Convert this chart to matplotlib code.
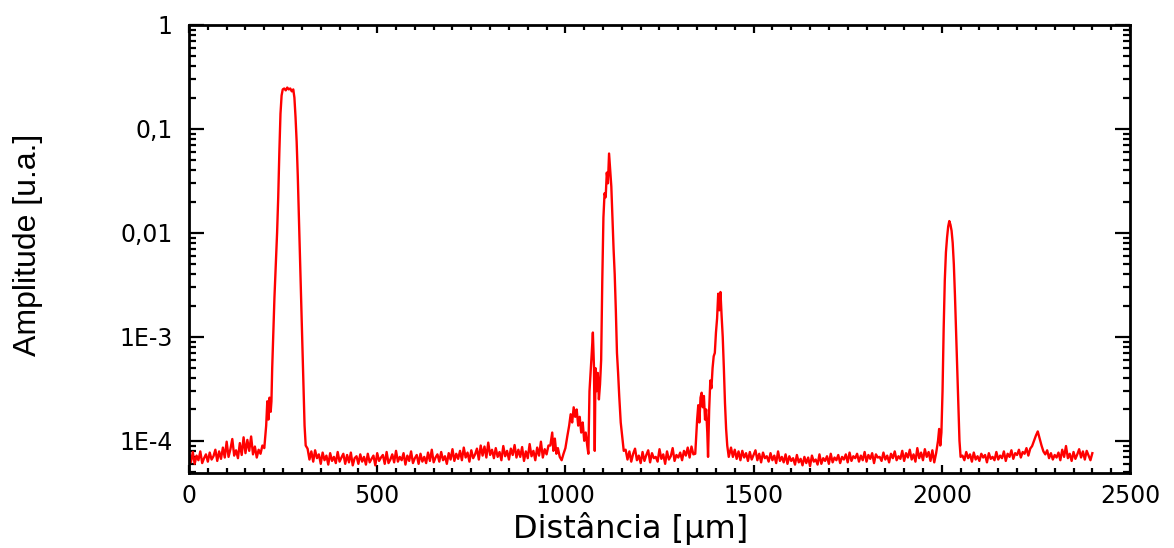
import numpy as np
import matplotlib
matplotlib.use("Agg")
import matplotlib.pyplot as plt
from matplotlib.ticker import FixedLocator, FixedFormatter, LogLocator, MultipleLocator

# baseline noise, in units of 1e-5, sampled every 5 um
base_a_start, base_a = 0, [
    7.5, 6.2, 7.8, 6.0, 7.2, 6.5, 7.9, 6.1, 6.8, 7.4,
    6.3, 7.7, 6.6, 7.1, 8.2, 6.4, 7.9, 6.7, 8.6, 6.9,
    9.8, 7.0, 8.3, 10.4, 7.2, 8.1, 6.8, 9.5, 7.3, 10.8,
    7.6, 10.2, 8.0, 11.0, 7.4, 8.8, 6.9, 8.2, 7.5, 9.0]
base_b_start, base_b = 315, [
    8.4, 6.6, 7.9, 6.3, 8.1, 6.8, 7.4, 6.0, 7.7, 6.5,
    7.2, 5.9, 7.6, 6.4, 7.0, 6.1, 7.8, 6.3, 6.9, 7.5,
    6.0, 7.3, 6.2, 7.7, 5.8, 6.8, 7.1, 6.0, 7.4, 6.3,
    7.0, 5.9, 7.5, 6.2, 6.7, 7.2, 5.8, 7.6, 6.4, 6.9,
    7.3, 6.0, 7.8, 6.1, 6.6, 7.4, 6.2, 8.0, 6.3, 7.0,
    6.5, 7.6, 5.9, 7.2, 6.4, 7.9, 6.1, 6.8, 7.3, 6.0,
    7.5, 6.3, 7.0, 6.1, 7.7, 6.4, 8.2, 6.2, 6.9, 7.4,
    6.3, 7.8, 6.5, 7.1, 6.0, 7.6, 6.6, 8.3, 6.4, 7.5,
    6.7, 8.0, 6.5, 8.6, 6.9, 7.7, 6.3, 8.1, 6.8, 7.4,
    8.4, 6.6, 9.0, 7.2, 8.8, 6.9, 9.6, 7.3, 8.2, 6.8,
    8.5, 7.0, 7.8, 6.5, 8.9, 7.1, 8.0, 6.6, 8.4, 7.3,
    9.1, 6.9, 8.2, 7.0, 8.7, 6.4, 7.9, 6.8, 9.3, 7.1,
    8.0, 6.5, 8.6, 7.2, 9.8, 6.9, 8.3, 7.4, 9.0]
base_c_start, base_c = 1160, [
    8.2, 6.6, 7.9, 6.3, 7.5, 8.4, 6.5, 7.2, 6.1, 7.8,
    6.4, 7.3, 8.1, 6.2, 7.6, 6.8, 7.0, 6.3, 8.3, 6.7,
    7.4, 6.0, 7.9, 6.6, 7.1, 8.5, 6.4, 7.3, 6.9, 7.7,
    6.5, 8.0, 7.2, 8.6, 6.9, 8.8, 7.4]
base_d_start, base_d = 1440, [
    8.6, 7.0, 8.2, 6.7, 7.9, 6.5, 8.0, 6.9, 7.6, 6.4,
    7.8, 6.6, 7.3, 8.1, 6.5, 7.5, 6.2, 7.7, 6.8, 7.1,
    6.3, 7.6, 6.5, 7.2, 6.1, 7.9, 6.4, 7.0, 6.2, 7.4,
    6.0, 7.1, 6.4, 6.8, 5.9, 7.3, 6.2, 6.7, 5.8, 7.0,
    6.1, 6.9, 5.7, 7.2, 6.3, 6.6, 5.9, 7.4, 6.0, 6.8,
    6.4, 7.1, 6.0, 7.5, 6.2, 6.9, 6.5, 7.3, 6.1, 7.0,
    6.6, 7.4, 6.2, 7.7, 6.4, 7.1, 6.8, 7.5, 6.3, 7.2,
    6.5, 7.8, 6.3, 7.3, 6.7, 7.6, 6.1, 7.4, 6.9, 7.0,
    6.4, 7.7, 6.6, 7.2, 6.2, 7.5, 6.8, 7.9, 6.5, 7.1,
    6.7, 8.0, 6.4, 7.6, 6.9, 8.2, 6.6, 7.4, 6.3, 8.5,
    6.8, 7.7, 6.5, 8.3, 7.0, 7.8, 6.4, 8.1, 6.2, 7.6]
base_e_start, base_e = 2055, [
    7.2, 6.5, 7.8, 6.8, 7.4, 6.3, 7.7, 6.6, 7.1, 6.4,
    7.5, 6.9, 7.3, 6.2, 7.6, 6.7, 7.0, 6.5, 7.8, 6.6,
    7.2, 6.8, 7.9, 6.4, 7.5, 7.0, 8.1, 6.7, 7.6, 7.3,
    8.2, 6.9, 7.8, 7.5, 8.5, 7.2, 8.4, 8.9, 10.0, 11.2,
    12.3, 10.5, 9.0, 7.9, 7.4, 8.1, 6.8, 7.6, 6.6, 7.3,
    6.9, 7.7, 6.5, 8.2, 7.0, 8.9, 6.8, 7.5, 6.4, 7.8,
    6.7, 7.4, 8.3, 6.9, 7.9, 6.6, 8.0, 7.2, 6.5, 7.6]

# peaks (um, amplitude)
peak1_x = [200, 205, 208, 211, 214, 217, 219, 221, 224, 227, 230, 234, 237, 240, 243, 246, 249, 253,
           257, 261, 265, 269, 273, 277, 280, 283, 286, 289, 292, 295, 298, 301, 304, 307, 310]
peak1_y = [8.5e-5, 1.4e-4, 2.4e-4, 1.6e-4, 2.6e-4, 1.9e-4, 2.4e-4, 5e-4, 1.1e-3, 2.4e-3, 4.5e-3, 1e-2,
           2.2e-2, 6e-2, 0.14, 0.21, 0.24, 0.245, 0.235, 0.25, 0.24, 0.245, 0.23, 0.24, 0.2, 0.13, 0.075,
           0.035, 0.014, 6e-3, 2.2e-3, 9e-4, 3.5e-4, 1.4e-4, 9e-5]
peak2_x = [960, 965, 968, 972, 976, 980, 985, 990, 995, 1000, 1005, 1010, 1014, 1018, 1022, 1026, 1030,
           1034, 1038, 1042, 1046, 1050, 1054, 1058, 1061, 1064, 1067, 1070, 1073, 1076, 1078, 1080, 1083,
           1086, 1089, 1092, 1095, 1098, 1101, 1104, 1107, 1110, 1113, 1116, 1119, 1122, 1125, 1128, 1131,
           1134, 1137, 1140, 1143, 1147, 1151, 1155]
peak2_y = [9e-5, 1.2e-4, 8e-5, 1.05e-4, 7.5e-5, 8.5e-5, 7e-5, 6.5e-5, 7.5e-5, 8.5e-5, 1.1e-4, 1.4e-4,
           1.8e-4, 1.5e-4, 2.1e-4, 1.7e-4, 2e-4, 1.4e-4, 1.7e-4, 1.2e-4, 1.5e-4, 1.0e-4, 1.2e-4, 9e-5,
           7.5e-5, 3e-4, 4.5e-4, 7e-4, 1.1e-3, 5e-4, 8e-5, 5e-4, 3e-4, 4.5e-4, 2.5e-4, 3.5e-4, 6e-4,
           3.5e-3, 0.014, 0.024, 0.022, 0.038, 0.03, 0.058, 0.04, 0.028, 0.014, 7e-3, 4e-3, 1.8e-3,
           7e-4, 4.5e-4, 2.7e-4, 1.5e-4, 1.1e-4, 8e-5]
peak3_x = [1345, 1350, 1353, 1356, 1359, 1362, 1365, 1368, 1371, 1374, 1377, 1379, 1382, 1385, 1388,
           1391, 1394, 1397, 1400, 1403, 1406, 1409, 1412, 1415, 1418, 1421, 1424, 1427, 1430, 1434]
peak3_y = [7.5e-5, 1.6e-4, 2.2e-4, 1.5e-4, 2.6e-4, 2.9e-4, 2.1e-4, 2.7e-4, 1.6e-4, 2e-4, 1.2e-4, 7e-5,
           2e-4, 3.8e-4, 3.2e-4, 5e-4, 6.5e-4, 7e-4, 1.1e-3, 1.5e-3, 2.6e-3, 1.8e-3, 2.7e-3, 1.6e-3,
           1e-3, 5e-4, 2.3e-4, 1.3e-4, 9e-5, 7e-5]
peak4_x = [1990, 1993, 1996, 1999, 2002, 2005, 2008, 2011, 2014, 2017, 2020, 2023, 2026, 2029, 2032,
           2035, 2038, 2041, 2044, 2047, 2050]
peak4_y = [1.0e-4, 1.3e-4, 9e-5, 1.2e-4, 3e-4, 1.2e-3, 3.5e-3, 6.5e-3, 9e-3, 0.0115, 0.013, 0.012,
           0.0105, 8e-3, 5e-3, 2.5e-3, 1.1e-3, 4.5e-4, 2e-4, 1e-4, 7e-5]

y_ticks = [1e-4, 1e-3, 1e-2, 1e-1, 1]
y_labels = ["1E-4", "1E-3", "0,01", "0,1", "1"]
x_ticks = [0, 500, 1000, 1500, 2000, 2500]


def base(start, vals):
    return list(start + 5 * np.arange(len(vals))), [v * 1e-5 for v in vals]


parts = [base(base_a_start, base_a), (peak1_x, peak1_y),
         base(base_b_start, base_b), (peak2_x, peak2_y),
         base(base_c_start, base_c), (peak3_x, peak3_y),
         base(base_d_start, base_d), (peak4_x, peak4_y),
         base(base_e_start, base_e)]
x = np.concatenate([np.asarray(p[0], float) for p in parts])
y = np.concatenate([np.asarray(p[1], float) for p in parts])

fig = plt.figure(figsize=(11.74, 5.48), dpi=100)
ax = fig.add_axes([0.161, 0.1369, 0.8015, 0.8175])
ax.plot(x, y, color="#ff0000", lw=1.7)

ax.set_yscale("log")
ax.set_xlim(0, 2500)
ax.set_ylim(4.9e-5, 1)

ax.yaxis.set_major_locator(FixedLocator(y_ticks))
ax.yaxis.set_major_formatter(FixedFormatter(y_labels))
ax.yaxis.set_minor_locator(LogLocator(base=10, subs=np.arange(2, 10)))
ax.yaxis.set_minor_formatter(FixedFormatter([]))
ax.xaxis.set_major_locator(FixedLocator(x_ticks))
ax.xaxis.set_minor_locator(MultipleLocator(50))

for s in ax.spines.values():
    s.set_linewidth(2.0)
ax.tick_params(which="both", direction="in", top=True, right=True, width=1.6, color="black")
ax.tick_params(axis="y", which="major", length=11, pad=12)
ax.tick_params(axis="y", which="minor", length=5)
ax.tick_params(axis="x", which="major", length=6, pad=8)
ax.tick_params(axis="x", which="minor", length=3.5)
for lab in ax.get_xticklabels():
    lab.set_fontfamily(["DejaVu Sans"])
    lab.set_fontsize(17)
for lab in ax.get_yticklabels():
    lab.set_fontfamily(["DejaVu Sans"])
    lab.set_fontsize(17)

fig.text(0.537, 0.036, "Distância [µm]", ha="center", va="center", fontsize=23,
         family=["DejaVu Sans"])
fig.text(0.024, 0.553, "Amplitude [u.a.]", ha="center", va="center", rotation=90,
         fontsize=23, family=["Liberation Sans"])

fig.savefig("out.png", dpi=100)
